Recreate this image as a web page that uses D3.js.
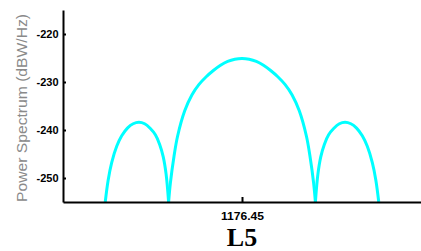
<!DOCTYPE html>
<html>
<head>
<meta charset="utf-8">
<script src="https://d3js.org/d3.v7.min.js"></script>
<style>
  body { margin: 0; background: #fff; }
  .lobe { fill: none; stroke: #00ffff; stroke-width: 3; }
  .axis path, .axis line { stroke: #000; stroke-width: 2; }
</style>
</head>
<body>
<div id="chart"></div>
<script>
// Data (frequency offset from centre in MHz, power in dBW/Hz)
var centerFreq = 1176.45;
var bandLabel = "L5";
var yTicks = [-220, -230, -240, -250];
var xTicks = [1176.45];

var leftSideFreq = [-19.1, -18.7, -18.2, -17.5, -16.8, -16.0, -15.2, -14.4, -13.6, -12.8, -12.1, -11.5, -11.0, -10.6, -10.25];
var leftSidePower = [-255, -250.5, -246.8, -243.4, -241.2, -239.6, -238.7, -238.4, -238.7, -239.7, -241.0, -243.0, -245.6, -249.2, -255];

var mainFreq = [-10.25, -10, -9.5, -9, -8, -7, -6, -5, -4, -3, -2, -1, 0,
                1, 2, 3, 4, 5, 6, 7, 8, 9, 9.5, 10, 10.25];
var mainPower = [-255, -251.0, -245.5, -241.3, -236.0, -232.7, -230.5, -228.9, -227.6, -226.5, -225.7, -225.25, -225.1,
                 -225.25, -225.7, -226.5, -227.6, -228.9, -230.5, -232.7, -236.0, -241.3, -245.5, -251.0, -255];

var rightSideFreq = [10.25, 10.6, 11.0, 11.5, 12.1, 12.8, 13.6, 14.4, 15.2, 16.0, 16.8, 17.5, 18.2, 18.7, 19.1];
var rightSidePower = [-255, -249.2, -245.6, -243.0, -241.0, -239.7, -238.7, -238.4, -238.7, -239.6, -241.2, -243.4, -246.8, -250.5, -255];

// Set up the chart
var svgWidth = 421;
var svgHeight = 251;

var margin = {
    top: 10,
    right: 0,
    bottom: 49,
    left: 63
};

var width = svgWidth - margin.left - margin.right;
var height = svgHeight - margin.top - margin.bottom;

var svg = d3.select("#chart")
    .append("svg")
    .attr("width", svgWidth)
    .attr("height", svgHeight);

var chartGroup = svg.append("g")
    .attr("transform", `translate(${margin.left}, ${margin.top})`);

var xScale = d3.scaleLinear()
    .domain([centerFreq - 25, centerFreq + 25])
    .range([0, width]);

var yScale = d3.scaleLinear()
    .domain([-255, -215])
    .range([height, 0]);

chartGroup.append("clipPath")
    .attr("id", "plotClip")
    .append("rect")
    .attr("x", 0)
    .attr("y", -5)
    .attr("width", width)
    .attr("height", height + 5);

var line = d3.line()
    .x(d => xScale(centerFreq + d[0]))
    .y(d => yScale(d[1]))
    .curve(d3.curveCatmullRom.alpha(0.5));

var lobes = [
    d3.zip(leftSideFreq, leftSidePower),
    d3.zip(mainFreq, mainPower),
    d3.zip(rightSideFreq, rightSidePower)
];

chartGroup.append("g")
    .attr("clip-path", "url(#plotClip)")
    .selectAll("path")
    .data(lobes)
    .enter()
    .append("path")
    .attr("class", "lobe")
    .attr("d", line);

// Axes, ticks pointing into the plot
var bottomAxis = d3.axisBottom(xScale)
    .tickValues(xTicks)
    .tickSize(-5)
    .tickSizeOuter(0)
    .tickFormat(d3.format(".2f"));

var leftAxis = d3.axisLeft(yScale)
    .tickValues(yTicks)
    .tickSize(-3)
    .tickSizeOuter(0)
    .tickFormat(d => String(d));

var xAxisG = chartGroup.append("g")
    .attr("class", "axis")
    .attr("transform", `translate(0, ${height})`)
    .call(bottomAxis);

xAxisG.selectAll("text")
    .attr("y", 10)
    .attr("dy", "0.71em")
    .attr("font-family", "Liberation Sans, Arial, sans-serif")
    .attr("font-weight", "bold")
    .attr("font-size", 11.5)
    .attr("fill", "#000")
    .attr("textLength", 43)
    .attr("lengthAdjust", "spacingAndGlyphs");

var yAxisG = chartGroup.append("g")
    .attr("class", "axis")
    .call(leftAxis);

yAxisG.selectAll("text")
    .attr("x", -4.5)
    .attr("font-family", "Liberation Sans, Arial, sans-serif")
    .attr("font-weight", "bold")
    .attr("font-size", 10.5)
    .attr("fill", "#000")
    .attr("textLength", 22)
    .attr("lengthAdjust", "spacingAndGlyphs");

// Axis title
svg.append("text")
    .attr("transform", `translate(27, ${margin.top + 98}) rotate(-90)`)
    .attr("text-anchor", "middle")
    .attr("font-family", "Liberation Sans, Arial, sans-serif")
    .attr("font-size", 14.5)
    .attr("fill", "#8a8a8a")
    .attr("textLength", 188)
    .attr("lengthAdjust", "spacingAndGlyphs")
    .text("Power Spectrum (dBW/Hz)");

// Band name under the axis
svg.append("text")
    .attr("x", margin.left + xScale(centerFreq))
    .attr("y", 246)
    .attr("text-anchor", "middle")
    .attr("font-family", "Liberation Serif, Times New Roman, serif")
    .attr("font-weight", "bold")
    .attr("font-size", 26)
    .attr("fill", "#000")
    .text(bandLabel);
</script>
</body>
</html>
